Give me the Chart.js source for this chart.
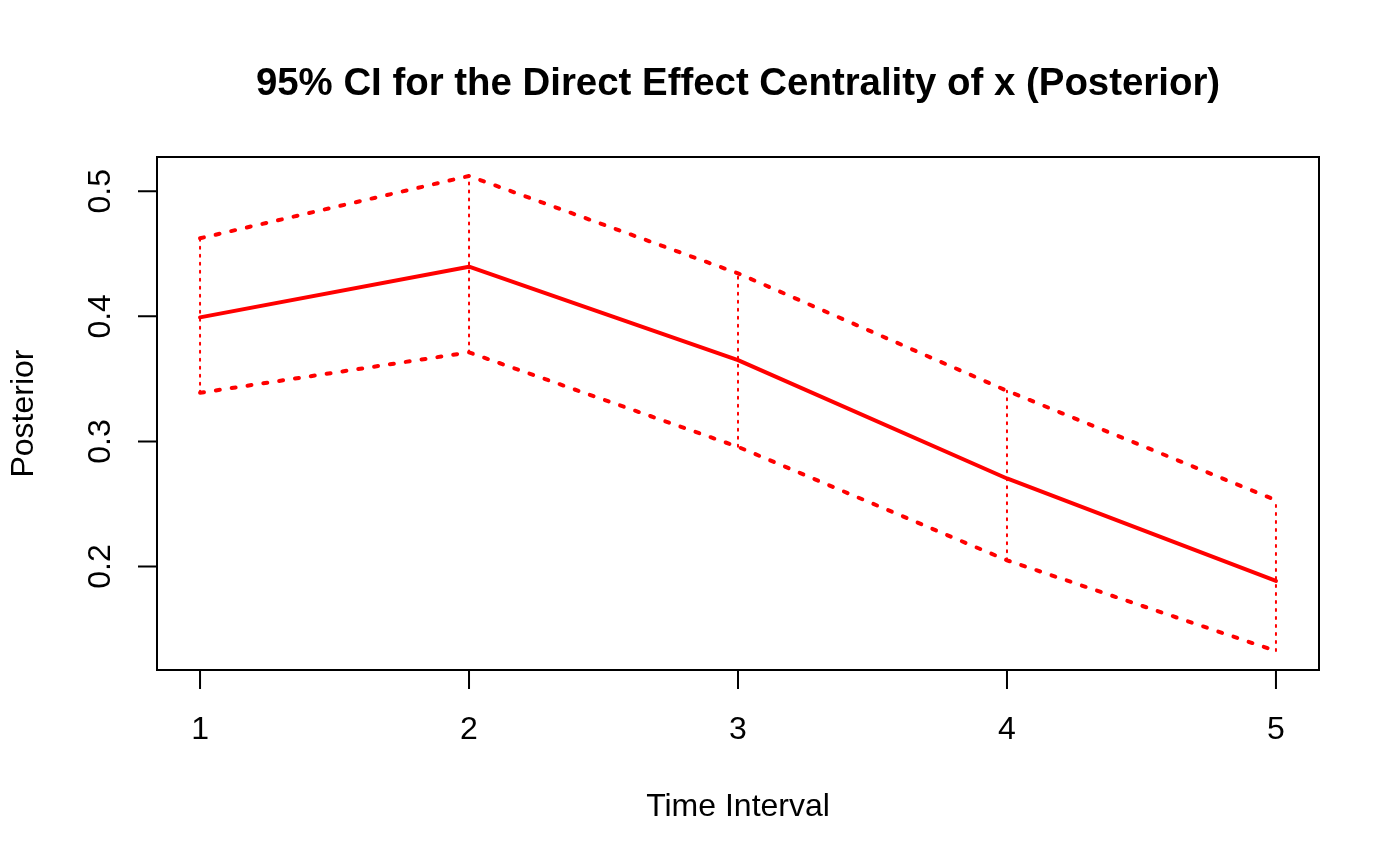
<!DOCTYPE html>
<html>
<head>
<meta charset="utf-8">
<title>95% CI for the Direct Effect Centrality of x (Posterior)</title>
<script src="https://cdn.jsdelivr.net/npm/chart.js@4/dist/chart.umd.min.js"></script>
<style>
  html, body { margin: 0; padding: 0; background: #fff; }
  #wrap { width: 1400px; height: 866px; }
</style>
</head>
<body>
<div id="wrap"><canvas id="chart" width="1400" height="866"></canvas></div>
<script>
// values
const timeIntervals = [1, 2, 3, 4, 5];
const posteriorMean = [0.3992, 0.4397, 0.3650, 0.2704, 0.1885];
const ciUpper = [0.4624, 0.5122, 0.4344, 0.3405, 0.2530];
const ciLower = [0.3389, 0.3712, 0.2957, 0.2050, 0.1325];
const yTicks = [0.2, 0.3, 0.4, 0.5];
const yTickLabels = ["0.2", "0.3", "0.4", "0.5"];

const titleText = "95% CI for the Direct Effect Centrality of x (Posterior)";
const xTitle = "Time Interval";
const yTitle = "Posterior";

const RED = "#ff0000";
const FONT = "'Liberation Sans', Arial, Helvetica, sans-serif";

// R-style 4% axis extension
const xLo = Math.min(...timeIntervals), xHi = Math.max(...timeIntervals);
const yLo = Math.min(...ciLower), yHi = Math.max(...ciUpper);
const xPad = (xHi - xLo) * 0.04, yPad = (yHi - yLo) * 0.04;

const toPts = (ys) => timeIntervals.map((x, i) => ({ x, y: ys[i] }));

const datasets = [
  { data: toPts(ciUpper), borderColor: RED, borderWidth: 4, borderDash: [4, 12], borderCapStyle: "round" },
  { data: toPts(ciLower), borderColor: RED, borderWidth: 4, borderDash: [4, 12], borderCapStyle: "round" },
];
// dotted verticals linking lower and upper bounds
timeIntervals.forEach((x, i) => {
  datasets.push({
    data: [{ x, y: ciLower[i] }, { x, y: ciUpper[i] }],
    borderColor: RED, borderWidth: 2, borderDash: [2, 6], borderCapStyle: "round",
  });
});
datasets.push({ data: toPts(posteriorMean), borderColor: RED, borderWidth: 4, borderCapStyle: "round", borderJoinStyle: "round" });

// base-graphics look: box, outward ticks, rotated y labels, titles
const rAxes = {
  id: "rAxes",
  afterDraw(chart) {
    const { ctx, chartArea: a, scales } = chart;
    const xs = scales.x, ys = scales.y;
    ctx.save();
    ctx.strokeStyle = "#000";
    ctx.fillStyle = "#000";
    ctx.lineWidth = 2;
    ctx.strokeRect(a.left, a.top, a.right - a.left, a.bottom - a.top);

    ctx.font = "32px " + FONT;
    ctx.textAlign = "center";
    ctx.textBaseline = "alphabetic";
    ctx.beginPath();
    timeIntervals.forEach((v) => {
      const px = xs.getPixelForValue(v);
      ctx.moveTo(px, a.bottom);
      ctx.lineTo(px, a.bottom + 19);
    });
    yTicks.forEach((v) => {
      const py = ys.getPixelForValue(v);
      ctx.moveTo(a.left, py);
      ctx.lineTo(a.left - 19, py);
    });
    ctx.stroke();

    timeIntervals.forEach((v) => ctx.fillText(String(v), xs.getPixelForValue(v), 739));
    yTicks.forEach((v, i) => {
      ctx.save();
      ctx.translate(110, ys.getPixelForValue(v));
      ctx.rotate(-Math.PI / 2);
      ctx.fillText(yTickLabels[i], 0, 0);
      ctx.restore();
    });

    ctx.fillText(xTitle, (a.left + a.right) / 2, 816);
    ctx.save();
    ctx.translate(33, (a.top + a.bottom) / 2);
    ctx.rotate(-Math.PI / 2);
    ctx.fillText(yTitle, 0, 0);
    ctx.restore();

    ctx.font = "bold 38.4px " + FONT;
    ctx.fillText(titleText, (a.left + a.right) / 2, 95);
    ctx.restore();
  },
};

new Chart(document.getElementById("chart"), {
  type: "line",
  data: { datasets },
  options: {
    responsive: false,
    animation: false,
    events: [],
    layout: { padding: { left: 157, top: 157, right: 81, bottom: 196 } },
    elements: { point: { radius: 0 }, line: { tension: 0 } },
    plugins: { legend: { display: false }, tooltip: { enabled: false }, title: { display: false } },
    scales: {
      x: { type: "linear", display: false, min: xLo - xPad, max: xHi + xPad },
      y: { type: "linear", display: false, min: yLo - yPad, max: yHi + yPad },
    },
  },
  plugins: [rAxes],
});
</script>
</body>
</html>
